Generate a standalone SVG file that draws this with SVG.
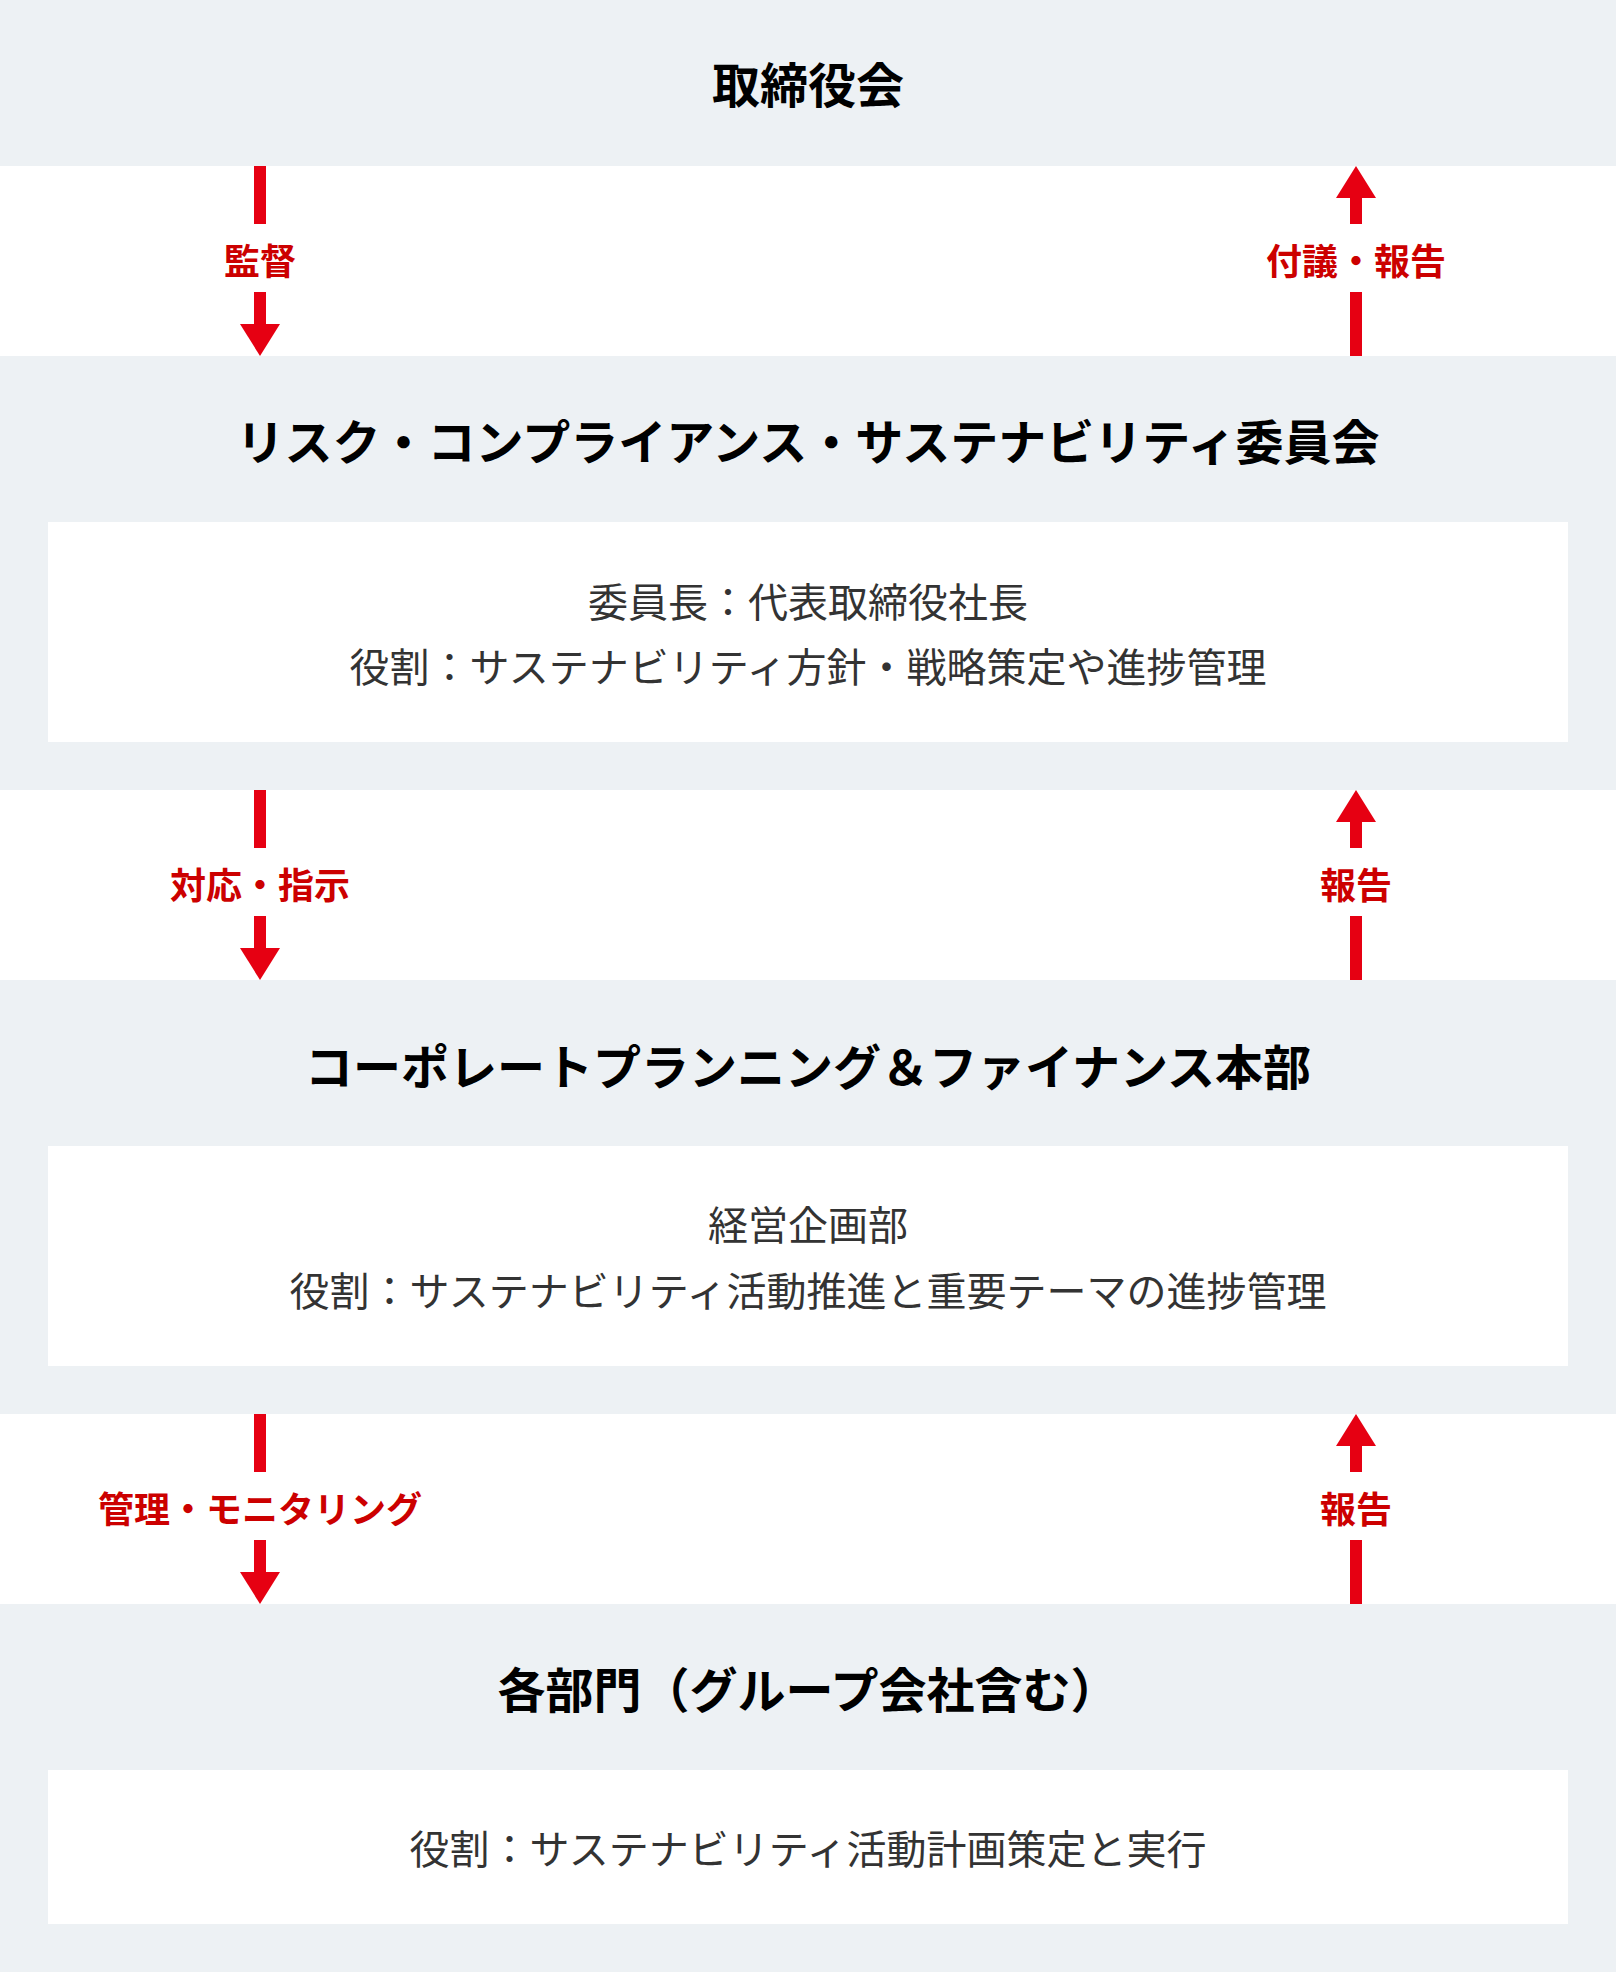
<svg xmlns="http://www.w3.org/2000/svg" width="1616" height="1972" viewBox="0 0 1616 1972">
  <style>
    .band { fill: #edf1f4; }
    .box { fill: #ffffff; }
    .title { font-family: "Noto Sans CJK JP", "Noto Sans", sans-serif; font-size: 48px; font-weight: 700; fill: #000000; text-anchor: middle; }
    .body { font-family: "Noto Sans CJK JP", "Noto Sans", sans-serif; font-size: 40px; font-weight: 400; fill: #333333; text-anchor: middle; }
    .label { font-family: "Noto Sans CJK JP", "Noto Sans", sans-serif; font-size: 36px; font-weight: 700; fill: #cc0000; text-anchor: middle; }
    .conn { stroke: #e60012; stroke-width: 12; fill: none; stroke-linecap: butt; }
  </style>
  <defs>
    <marker id="head" viewBox="0 0 32 40" markerWidth="32" markerHeight="40" refX="0" refY="20" orient="auto" markerUnits="userSpaceOnUse">
      <path d="M0,0 L32,20 L0,40 z" fill="#e60012"/>
    </marker>
  </defs>
  <rect x="0" y="0" width="1616" height="1972" fill="#ffffff"/>

  <g id="node-board">
    <rect class="band" x="0" y="0" width="1616" height="166"/>
    <text class="title" x="808" y="103">取締役会</text>
  </g>

  <g id="node-committee">
    <rect class="band" x="0" y="356" width="1616" height="434"/>
    <text class="title" x="808" y="460">リスク・コンプライアンス・サステナビリティ委員会</text>
    <rect class="box" x="48" y="522" width="1520" height="220"/>
    <text class="body" x="808" y="617">委員長：代表取締役社長</text>
    <text class="body" x="808" y="682">役割：サステナビリティ方針・戦略策定や進捗管理</text>
  </g>

  <g id="node-cpf">
    <rect class="band" x="0" y="980" width="1616" height="434"/>
    <text class="title" x="808" y="1085">コーポレートプランニング＆ファイナンス本部</text>
    <rect class="box" x="48" y="1146" width="1520" height="220"/>
    <text class="body" x="808" y="1240">経営企画部</text>
    <text class="body" x="808" y="1306">役割：サステナビリティ活動推進と重要テーマの進捗管理</text>
  </g>

  <g id="node-departments">
    <rect class="band" x="0" y="1604" width="1616" height="368"/>
    <text class="title" x="808" y="1708">各部門（グループ会社含む）</text>
    <rect class="box" x="48" y="1770" width="1520" height="154"/>
    <text class="body" x="808" y="1864">役割：サステナビリティ活動計画策定と実行</text>
  </g>

  <g id="connectors">
    <!-- Gap 1: 166-356 -->
    <line class="conn" x1="260" y1="166" x2="260" y2="224"/>
    <line class="conn" x1="260" y1="292" x2="260" y2="324" marker-end="url(#head)"/>
    <text class="label" x="260" y="275">監督</text>
    <line class="conn" x1="1356" y1="224" x2="1356" y2="198" marker-end="url(#head)"/>
    <line class="conn" x1="1356" y1="292" x2="1356" y2="356"/>
    <text class="label" x="1356" y="275">付議・報告</text>

    <!-- Gap 2: 790-980 -->
    <line class="conn" x1="260" y1="790" x2="260" y2="848"/>
    <line class="conn" x1="260" y1="916" x2="260" y2="948" marker-end="url(#head)"/>
    <text class="label" x="260" y="899">対応・指示</text>
    <line class="conn" x1="1356" y1="848" x2="1356" y2="822" marker-end="url(#head)"/>
    <line class="conn" x1="1356" y1="916" x2="1356" y2="980"/>
    <text class="label" x="1356" y="899">報告</text>

    <!-- Gap 3: 1414-1604 -->
    <line class="conn" x1="260" y1="1414" x2="260" y2="1472"/>
    <line class="conn" x1="260" y1="1540" x2="260" y2="1572" marker-end="url(#head)"/>
    <text class="label" x="260" y="1523">管理・モニタリング</text>
    <line class="conn" x1="1356" y1="1472" x2="1356" y2="1446" marker-end="url(#head)"/>
    <line class="conn" x1="1356" y1="1540" x2="1356" y2="1604"/>
    <text class="label" x="1356" y="1523">報告</text>
  </g>
</svg>
